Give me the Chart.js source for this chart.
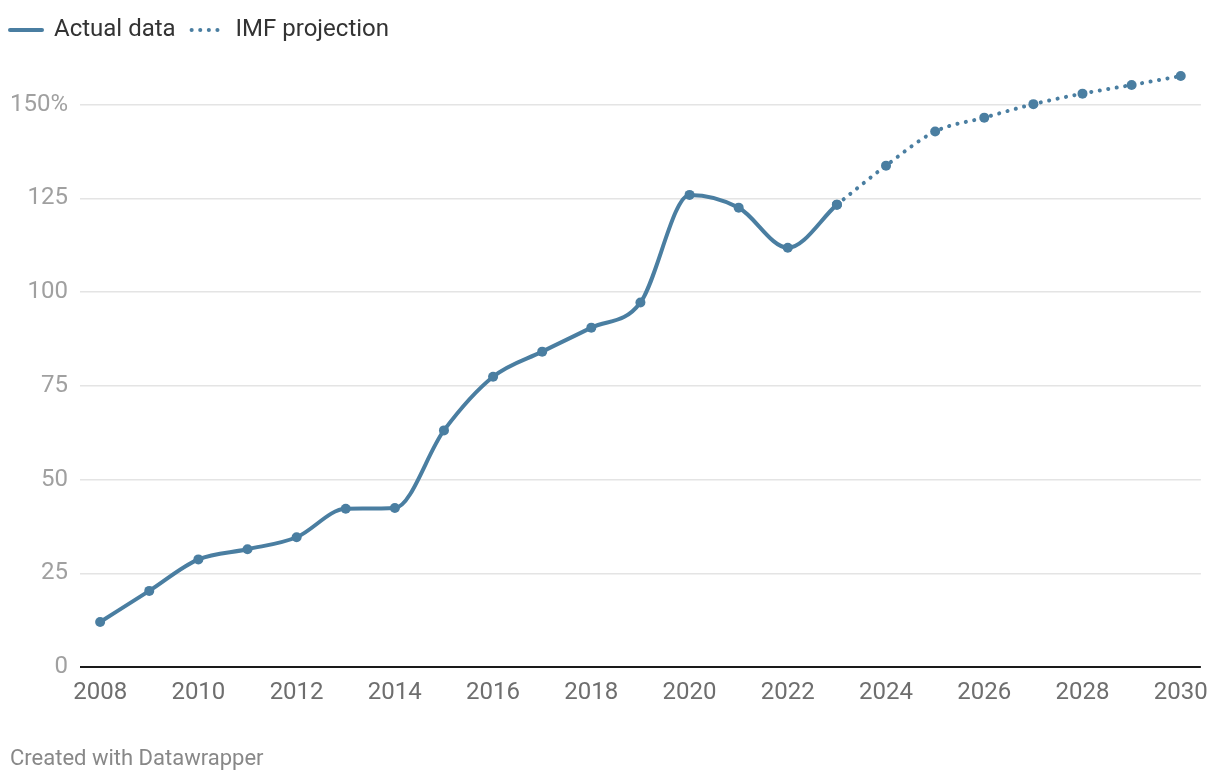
<!DOCTYPE html>
<html>
<head>
<meta charset="utf-8">
<script src="https://cdn.jsdelivr.net/npm/chart.js@4.4.1/dist/chart.umd.min.js"></script>
<style>
  html, body { margin: 0; padding: 0; background: #fff; }
  #wrap { width: 1220px; height: 782px; position: relative; }
  #credit {
    position: absolute; left: 10px; top: 745px;
    font: 22px/26px Roboto, "Noto Sans", sans-serif; color: #888;
  }
</style>
</head>
<body>
<div id="wrap">
  <canvas id="debtChart"></canvas>
  <div id="credit">Created with Datawrapper</div>
</div>
<script>
// values (percent)
const actualYears = [2008, 2009, 2010, 2011, 2012, 2013, 2014, 2015, 2016, 2017, 2018, 2019, 2020, 2021, 2022, 2023];
const actualValues = [12.0, 20.3, 28.7, 31.4, 34.6, 42.2, 42.4, 63.1, 77.4, 84.1, 90.5, 97.2, 125.9, 122.5, 111.8, 123.3];
const projYears = [2023, 2024, 2025, 2026, 2027, 2028, 2029, 2030];
const projValues = [123.3, 133.7, 142.8, 146.5, 150.1, 152.9, 155.2, 157.6];
const xTicks = [2008, 2010, 2012, 2014, 2016, 2018, 2020, 2022, 2024, 2026, 2028, 2030];
const yTicks = [0, 25, 50, 75, 100, 125, 150];

const blue = "#4a7ea1";

document.addEventListener("DOMContentLoaded", () => {
  const ctx = document.getElementById("debtChart");
  Chart.defaults.font.family = "Roboto, 'Noto Sans', sans-serif";

  new Chart(ctx, {
    type: "line",
    data: {
      datasets: [
        {
          label: "Actual data",
          data: actualYears.map((yr, i) => ({ x: yr, y: actualValues[i] })),
          borderColor: blue,
          backgroundColor: blue,
          borderWidth: 4,
          borderCapStyle: "round",
          pointRadius: 5,
          pointBorderWidth: 0,
          cubicInterpolationMode: "monotone",
          fill: false,
        },
        {
          label: "IMF projection",
          data: projYears.map((yr, i) => ({ x: yr, y: projValues[i] })),
          borderColor: blue,
          backgroundColor: blue,
          borderWidth: 4,
          borderDash: [0.1, 8.5],
          borderCapStyle: "round",
          pointRadius: 5,
          pointBorderWidth: 0,
          cubicInterpolationMode: "monotone",
          fill: false,
        },
      ],
    },
    options: {
      responsive: true,
      maintainAspectRatio: false,
      animation: false,
      clip: false,
      layout: { padding: { top: 8, left: 0, right: 16, bottom: 70 } },
      plugins: {
        tooltip: { enabled: false },
        legend: {
          position: "top",
          align: "start",
          labels: {
            usePointStyle: true,
            pointStyle: "line",
            pointStyleWidth: 32,
            padding: 10,
            color: "#333333",
            font: { size: 24 },
            // point options have no border, so build the line samples by hand
            generateLabels: (chart) =>
              chart.data.datasets.map((ds, i) => ({
                text: ds.label + (i === 0 ? " " : ""),
                datasetIndex: i,
                fillStyle: ds.borderColor,
                strokeStyle: ds.borderColor,
                lineWidth: 4,
                lineDash: ds.borderDash || [],
                lineCap: "round",
                pointStyle: "line",
                fontColor: "#333333",
                hidden: false,
              })),
          },
        },
      },
      scales: {
        x: {
          type: "linear",
          min: 2007.59,
          max: 2030.41,
          afterBuildTicks: (axis) => {
            axis.ticks = xTicks.map((v) => ({ value: v }));
          },
          afterFit: (axis) => {
            axis.height = 45;
          },
          grid: { display: false, drawTicks: false },
          border: { display: false },
          ticks: {
            color: "#6e6e6e",
            font: { size: 24 },
            padding: 12,
            maxRotation: 0,
            callback: (v) => String(v),
          },
        },
        y: {
          min: 0,
          max: 164,
          afterBuildTicks: (axis) => {
            axis.ticks = yTicks.map((v) => ({ value: v }));
          },
          afterFit: (axis) => {
            axis.width = 80;
          },
          border: { display: false },
          grid: {
            drawTicks: false,
            lineWidth: (c) => (c.tick && c.tick.value === 0 ? 2 : 1.5),
            color: (c) => (c.tick && c.tick.value === 0 ? "#1a1a1a" : "#e4e4e4"),
          },
          ticks: {
            color: "#a0a0a0",
            font: { size: 24 },
            padding: 12,
            callback: (v) => (v === 150 ? "150%" : String(v)),
          },
        },
      },
    },
  });
});
</script>
</body>
</html>
